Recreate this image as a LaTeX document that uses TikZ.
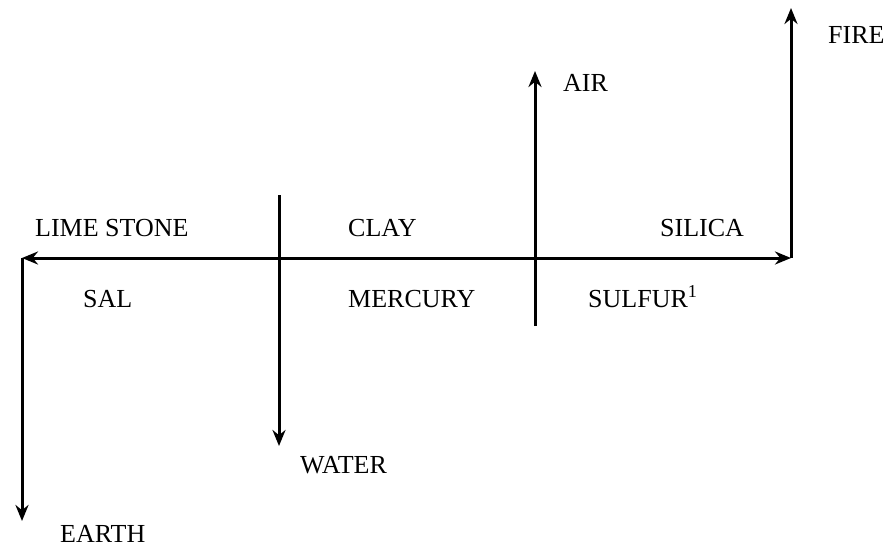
\documentclass[tikz,border=0pt]{standalone}
\usepackage{fontspec}
\setmainfont{Liberation Serif}
\usetikzlibrary{arrows.meta, positioning}

\begin{document}
\begin{tikzpicture}[x=1pt, y=-1pt,
    lbl/.style={anchor=base west, inner sep=0pt, font=\fontsize{26}{30}\selectfont},
    arrow/.style={line width=3pt, -{Stealth[length=16pt, width=13pt]}}
]
    \useasboundingbox (0,0) rectangle (886,546);

    % corners and ends of the cross
    \coordinate (left) at (22,258);
    \coordinate (right) at (791,258);
    \coordinate (earth) at (22,521);
    \coordinate (fire) at (791,8);
    \coordinate (wtop) at (279,195);
    \coordinate (wbot) at (279,446);
    \coordinate (abot) at (535,326);
    \coordinate (atop) at (535,71);

    \node [lbl] (lime) at (35,236) {LIME STONE};
    \node [lbl] (clay) at (348,236) {CLAY};
    \node [lbl] (silica) at (660,236) {SILICA};
    \node [lbl] (sal) at (83,307) {SAL};
    \node [lbl] (mercury) at (348,307) {MERCURY};
    \node [lbl] (sulfur) at (588,307) {SULFUR\textsuperscript{1}};
    \node [lbl] (air) at (563,91) {AIR};
    \node [lbl] (firelbl) at (828,43) {FIRE};
    \node [lbl] (water) at (300,473) {WATER};
    \node [lbl] (earthlbl) at (60,542) {EARTH};

    \draw [arrow, {Stealth[length=16pt, width=13pt]}-{Stealth[length=16pt, width=13pt]}] (left) -- (right);
    \draw [arrow] (left) -- (earth);
    \draw [arrow] (right) -- (fire);
    \draw [arrow] (wtop) -- (wbot);
    \draw [arrow] (abot) -- (atop);
\end{tikzpicture}
\end{document}
